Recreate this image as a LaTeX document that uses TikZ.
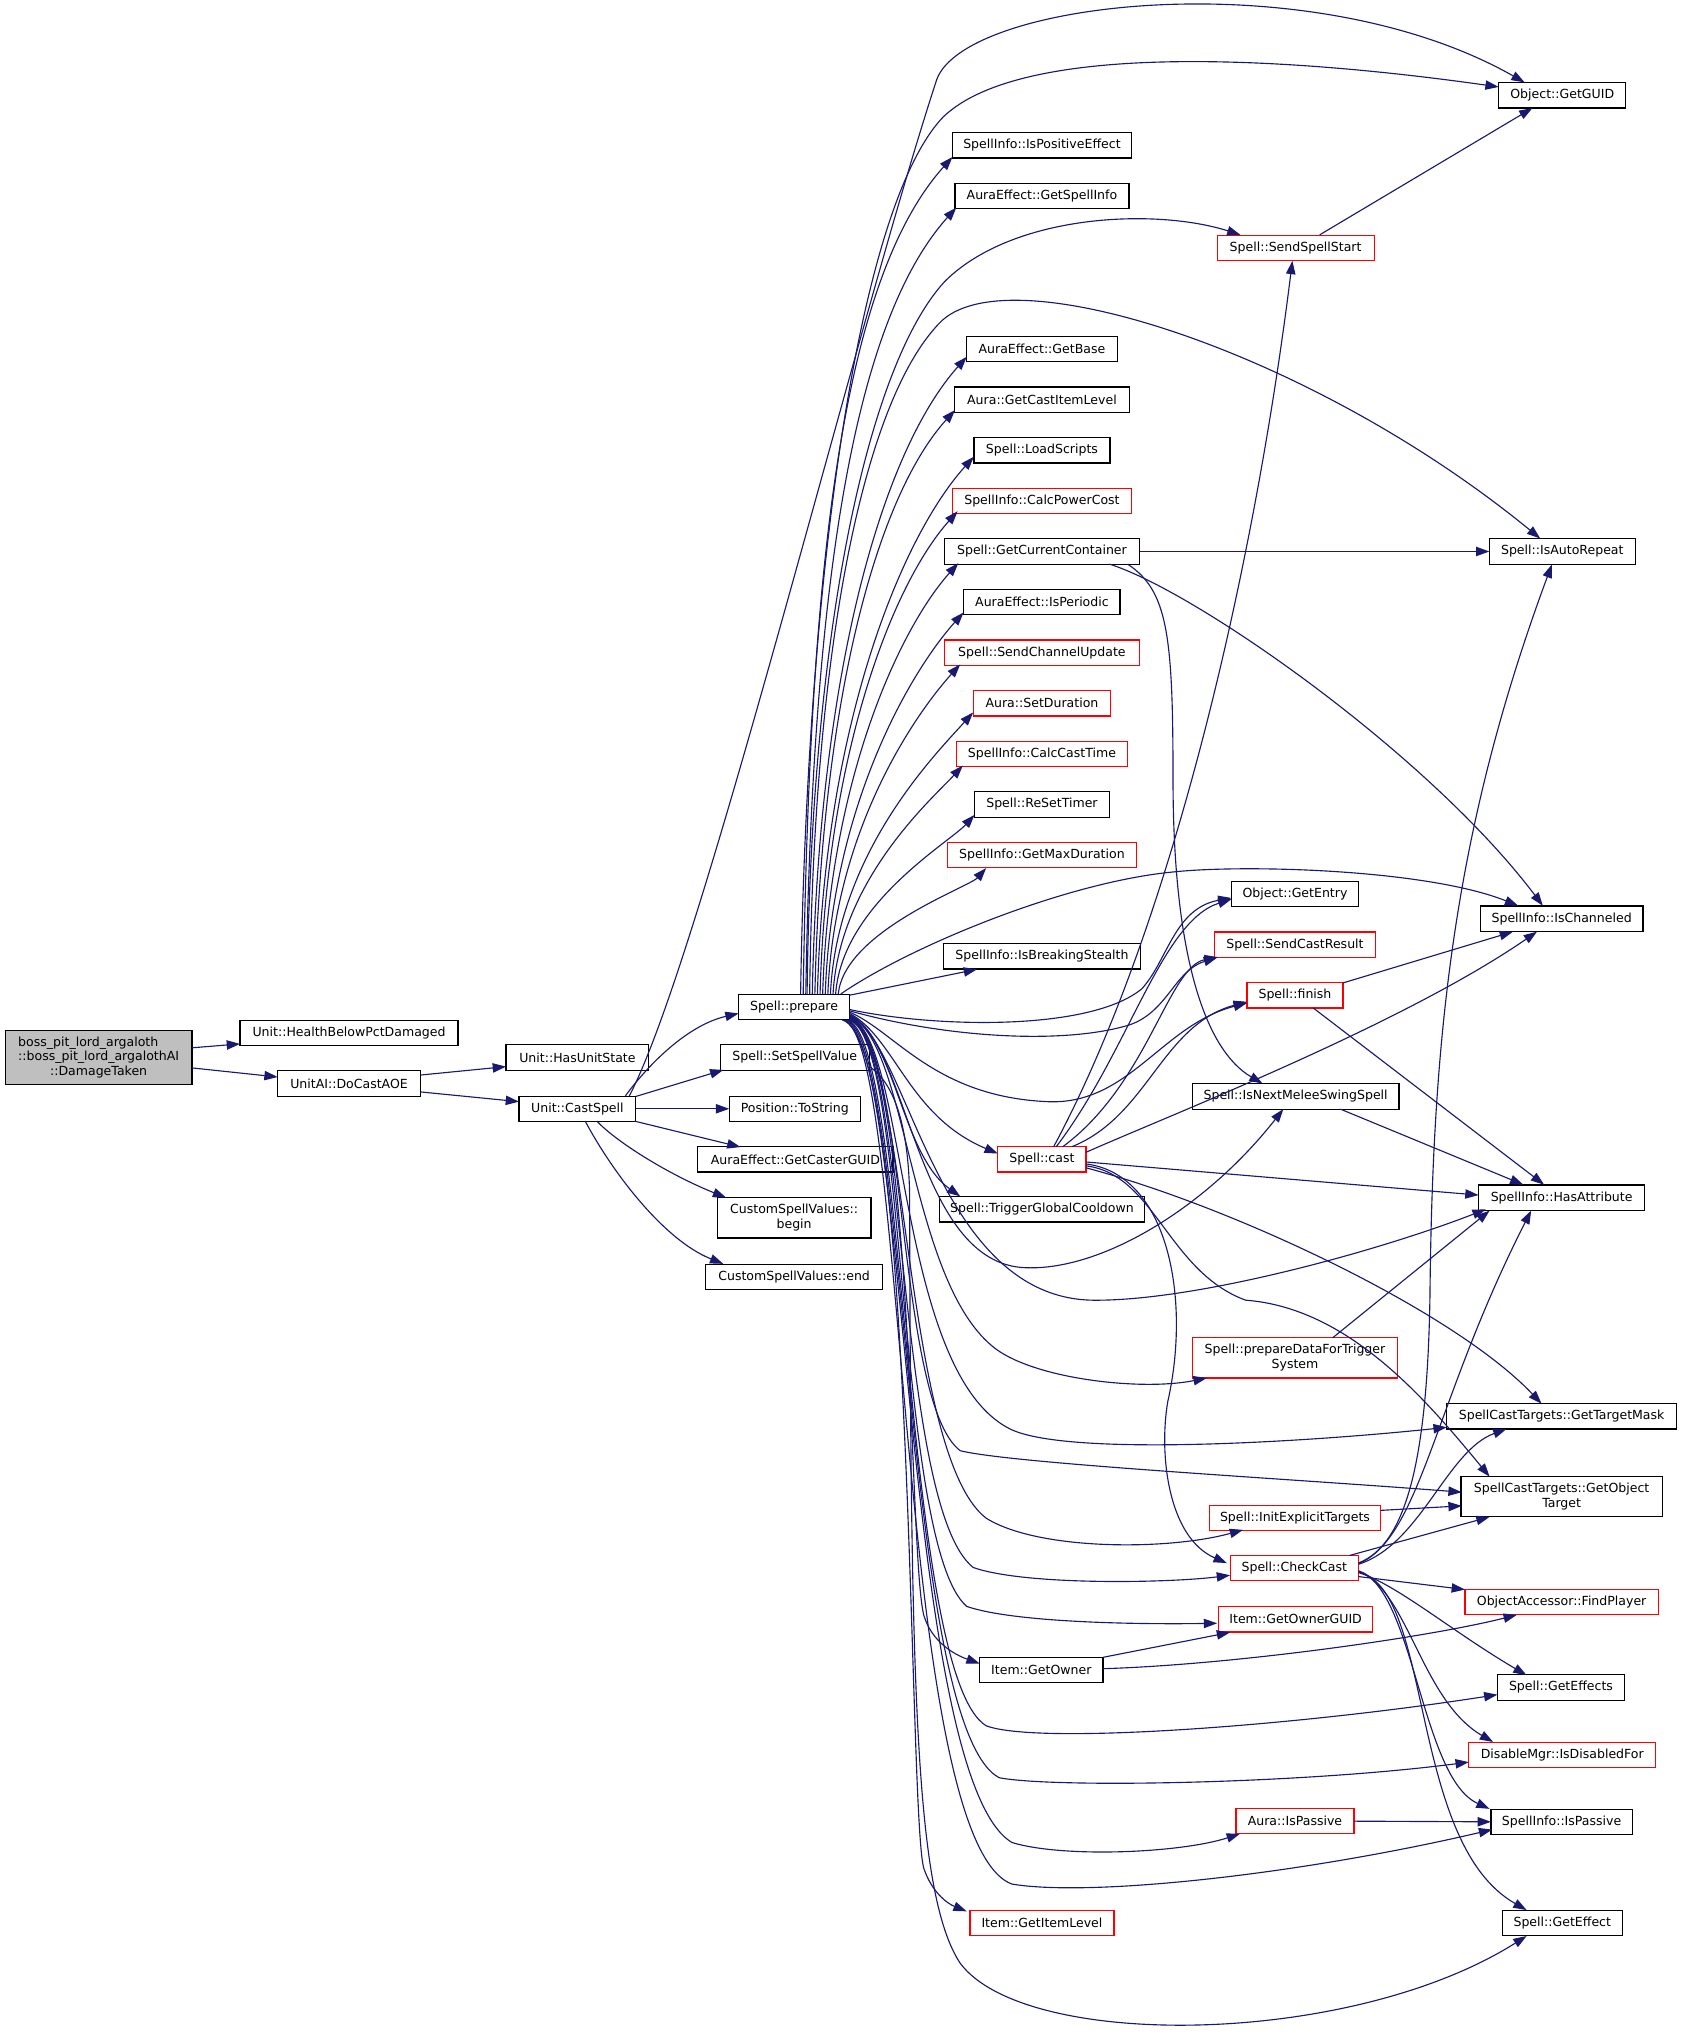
\documentclass[tikz,border=0pt]{standalone}
\usepackage{fontspec}
\setmainfont{DejaVu Sans}
\usetikzlibrary{arrows.meta}
\definecolor{eb}{HTML}{191970}
\definecolor{gfill}{HTML}{BFBFBF}
\def\ux{0.9732pt}
\begin{document}
\begin{tikzpicture}[x=0.9732pt,y=-0.9732pt,
  nb/.style={draw=black,line width=0.9pt,fill=white,inner sep=0pt,align=center,font=\fontsize{9.4}{11.2}\selectfont},
  rb/.style={nb,draw=red},
  sz/.style 2 args={minimum width=#1*\ux,minimum height=#2*\ux},
  e/.style={draw=eb,line width=0.85pt,-{Triangle[length=10pt,width=7pt]}}]
\useasboundingbox (0,0) rectangle (1297,1566);
% nodes
\node[nb,fill=gfill,sz={144}{42}] (boss) at (76,815) {\rlap{boss\_pit\_lord\_argaloth}\phantom{::boss\_pit\_lord\_argalothAI}\\::boss\_pit\_lord\_argalothAI\\::DamageTaken};
\node[nb,sz={168}{19.5}] (hbp) at (269,796) {Unit::HealthBelowPctDamaged};
\node[nb,sz={110}{19.5}] (dca) at (269,835) {UnitAI::DoCastAOE};
\node[nb,sz={110}{19.5}] (hus) at (445,815) {Unit::HasUnitState};
\node[nb,sz={90}{19.5}] (cs) at (445,854.5) {Unit::CastSpell};
\node[nb,sz={85.5}{19.5}] (prep) at (612,776) {Spell::prepare};
\node[nb,sz={115}{19.5}] (ssv) at (612.5,815) {Spell::SetSpellValue};
\node[nb,sz={101}{19.5}] (pts) at (612.5,854.5) {Position::ToString};
\node[nb,sz={150.5}{19.5}] (gcg) at (613,893.5) {AuraEffect::GetCasterGUID};
\node[nb,sz={118.5}{31}] (csb) at (612,938.5) {CustomSpellValues::\\begin};
\node[nb,sz={136.5}{19.5}] (cse) at (612,984) {CustomSpellValues::end};
\node[nb,sz={138}{19.5}] (ipe) at (803,112) {SpellInfo::IsPositiveEffect};
\node[nb,sz={134}{19.5}] (gsi) at (803,151) {AuraEffect::GetSpellInfo};
\node[rb,sz={121}{19.5}] (sss) at (998.5,191) {Spell::SendSpellStart};
\node[nb,sz={98}{19.5}] (guid) at (1204,73.5) {Object::GetGUID};
\node[nb,sz={116.6}{19.5}] (gb) at (803,269) {AuraEffect::GetBase};
\node[nb,sz={135.4}{19.5}] (gcil) at (803,308) {Aura::GetCastItemLevel};
\node[nb,sz={104.8}{19.5}] (ls) at (803,347) {Spell::LoadScripts};
\node[rb,sz={137.6}{19.5}] (cpc) at (803,386) {SpellInfo::CalcPowerCost};
\node[nb,sz={150.4}{19.5}] (gcc) at (803,425) {Spell::GetCurrentContainer};
\node[nb,sz={112.4}{19.5}] (iar) at (1204,425) {Spell::IsAutoRepeat};
\node[nb,sz={120.4}{19.5}] (iper) at (803,464) {AuraEffect::IsPeriodic};
\node[rb,sz={150}{19.5}] (scu) at (803,503) {Spell::SendChannelUpdate};
\node[rb,sz={106}{19.5}] (sd) at (803,542) {Aura::SetDuration};
\node[rb,sz={131.5}{19.5}] (cct) at (803,581) {SpellInfo::CalcCastTime};
\node[nb,sz={104}{19.5}] (rst) at (803,620) {Spell::ReSetTimer};
\node[rb,sz={145.5}{19.5}] (gmd) at (803,659) {SpellInfo::GetMaxDuration};
\node[nb,sz={151.6}{19.5}] (ibs) at (803,737) {SpellInfo::IsBreakingStealth};
\node[nb,sz={98}{19.5}] (ge) at (998,689) {Object::GetEntry};
\node[rb,sz={124}{19.5}] (scr) at (998,728) {Spell::SendCastResult};
\node[rb,sz={74}{19.5}] (fin) at (998,767) {Spell::finish};
\node[nb,sz={125.4}{19.5}] (ich) at (1203.5,708) {SpellInfo::IsChanneled};
\node[nb,sz={159.4}{19.5}] (nms) at (998.5,845) {Spell::IsNextMeleeSwingSpell};
\node[rb,sz={68}{19.5}] (cast) at (803,893.5) {Spell::cast};
\node[nb,sz={157.6}{19.5}] (tgc) at (803,932) {Spell::TriggerGlobalCooldown};
\node[nb,sz={128}{19.5}] (ha) at (1203.5,923) {SpellInfo::HasAttribute};
\node[rb,sz={158}{31}] (pdt) at (998,1046.5) {Spell::prepareDataForTrigger\\System};
\node[nb,sz={177}{19.5}] (gtm) at (1203.5,1091.5) {SpellCastTargets::GetTargetMask};
\node[nb,sz={155}{31}] (got) at (1203.5,1153.5) {SpellCastTargets::GetObject\\Target};
\node[rb,sz={132}{19.5}] (iet) at (998,1170) {Spell::InitExplicitTargets};
\node[rb,sz={99}{19.5}] (cc) at (997.5,1208.5) {Spell::CheckCast};
\node[rb,sz={149}{19.5}] (fp) at (1203.5,1234.5) {ObjectAccessor::FindPlayer};
\node[rb,sz={119}{19.5}] (gog) at (998.5,1248) {Item::GetOwnerGUID};
\node[nb,sz={95}{19.5}] (go) at (802.5,1287) {Item::GetOwner};
\node[nb,sz={98}{19.5}] (ges) at (1203,1300.5) {Spell::GetEffects};
\node[rb,sz={144}{19.5}] (idf) at (1204,1352.5) {DisableMgr::IsDisabledFor};
\node[rb,sz={91}{19.5}] (aip) at (998,1403.5) {Aura::IsPassive};
\node[nb,sz={109}{19.5}] (sip) at (1203.5,1404) {SpellInfo::IsPassive};
\node[rb,sz={111}{19.5}] (gil) at (803,1482) {Item::GetItemLevel};
\node[nb,sz={92.5}{19.5}] (gef) at (1204,1482) {Spell::GetEffect};
% edges: left part
\draw[e] ([shift={(72,-7.5)}]boss.center) -- ([shift={(-84,8.5)}]hbp.center);
\draw[e] ([shift={(72,8)}]boss.center) -- ([shift={(-55,-5)}]dca.center);
\draw[e] ([shift={(55,-6.5)}]dca.center) -- ([shift={(-55,7)}]hus.center);
\draw[e] ([shift={(55,6.5)}]dca.center) -- ([shift={(-45,-5.5)}]cs.center);
\draw[e] ([shift={(37,-10)}]cs.center) .. controls (500,820) and (530,790) .. ([shift={(-42.75,5)}]prep.center);
\draw[e] ([shift={(45,-9.5)}]cs.center) -- ([shift={(-55,9.5)}]ssv.center);
\draw[e] ([shift={(45,0)}]cs.center) -- ([shift={(-50.5,0)}]pts.center);
\draw[e] ([shift={(44,9.5)}]cs.center) -- ([shift={(-42.3,-9.5)}]gcg.center);
\draw[e] ([shift={(15,9.5)}]cs.center) .. controls (475,880) and (515,905) .. ([shift={(-52.4,-15.5)}]csb.center);
\draw[e] ([shift={(6,9.5)}]cs.center) .. controls (470,900) and (510,955) .. ([shift={(-54.6,-10)}]cse.center);
\draw[e] ([shift={(40,-10)}]cs.center) .. controls (540,740) and (660,250) .. (722,61) .. controls (745,0) and (1010,-30) .. ([shift={(-29,-10)}]guid.center);
% prepare upward fan
\draw[e] ([shift={(5,-10)}]prep.center) .. controls (622,450) and (660,160) .. (727,90) .. controls (790,30) and (1000,45) .. ([shift={(-49,-6.5)}]guid.center);
\draw[e] ([shift={(7,-10)}]prep.center) .. controls (624,443) and (647,218) .. ([shift={(-69,9)}]ipe.center);
\draw[e] ([shift={(9,-10)}]prep.center) .. controls (626,463) and (655,251) .. ([shift={(-66,9)}]gsi.center);
\draw[e] ([shift={(10,-10)}]prep.center) .. controls (625,480) and (670,280) .. (728,217) .. controls (780,165) and (890,160) .. ([shift={(-42.5,-10)}]sss.center);
\draw[e] ([shift={(12,-10)}]prep.center) .. controls (627,500) and (665,310) .. (724,249) .. controls (775,195) and (1010,270) .. ([shift={(-17,-10)}]iar.center);
\draw[e] ([shift={(14,-10)}]prep.center) .. controls (631,520) and (679,349) .. ([shift={(-58,6)}]gb.center);
\draw[e] ([shift={(16,-10)}]prep.center) .. controls (633,541) and (675,383.5) .. ([shift={(-67,8)}]gcil.center);
\draw[e] ([shift={(18,-10)}]prep.center) .. controls (635,559) and (694.6,414) .. ([shift={(-52.5,5)}]ls.center);
\draw[e] ([shift={(20,-10)}]prep.center) .. controls (637,580) and (688,450) .. ([shift={(-65,8)}]cpc.center);
\draw[e] ([shift={(22,-10)}]prep.center) .. controls (639,600) and (693.7,484) .. ([shift={(-64.5,9)}]gcc.center);
\draw[e] ([shift={(24,-10)}]prep.center) .. controls (641,619) and (703,516) .. ([shift={(-60.4,8)}]iper.center);
\draw[e] ([shift={(26,-10)}]prep.center) .. controls (643,639) and (705.7,550) .. ([shift={(-63,9)}]scu.center);
\draw[e] ([shift={(28,-10)}]prep.center) .. controls (645,657.5) and (720.7,581.5) .. ([shift={(-53,7)}]sd.center);
\draw[e] ([shift={(30,-10)}]prep.center) .. controls (647,678) and (718,616) .. ([shift={(-61,9)}]cct.center);
\draw[e] ([shift={(32,-10)}]prep.center) .. controls (649,697) and (732,649) .. ([shift={(-52,8)}]rst.center);
\draw[e] ([shift={(34,-10)}]prep.center) .. controls (651,717.5) and (747,683.5) .. ([shift={(-43,10)}]gmd.center);
\draw[e] ([shift={(42.5,-9)}]prep.center) -- ([shift={(-50,10)}]ibs.center);
\draw[e] ([shift={(36,-10)}]prep.center) .. controls (700,730) and (820,680) .. (904,672) .. controls (960,666) and (1100,670) .. ([shift={(-33.5,-10)}]ich.center);
% prepare right bundle
\draw[e] ([shift={(42.75,2)}]prep.center) .. controls (720,792) and (840,795) .. (880,762) .. controls (900,740) and (905,700) .. ([shift={(-49,3)}]ge.center);
\draw[e] ([shift={(42.75,3)}]prep.center) .. controls (730,800) and (820,805) .. (870,790) .. controls (900,780) and (905,748) .. ([shift={(-60,10)}]scr.center);
\draw[e] ([shift={(42.75,4)}]prep.center) .. controls (690,795) and (720,845) .. (807,849) .. controls (870,852) and (895,790) .. ([shift={(-37,6)}]fin.center);
\draw[e] ([shift={(42.75,5)}]prep.center) .. controls (690,800) and (700,860) .. ([shift={(-34,-4.5)}]cast.center);
\draw[e] ([shift={(42.75,6)}]prep.center) .. controls (690,800) and (695,890) .. ([shift={(-63,-10)}]tgc.center);
\draw[e] ([shift={(42.75,6.5)}]prep.center) .. controls (700,800) and (705,975) .. (791,977) .. controls (850,979) and (930,930) .. ([shift={(-9.5,9.75)}]nms.center);
\draw[e] ([shift={(42.75,7)}]prep.center) .. controls (700,800) and (720,1000) .. (842,1002) .. controls (920,1003) and (1060,965) .. ([shift={(-58.5,9)}]ha.center);
\draw[e] ([shift={(42.75,7.5)}]prep.center) .. controls (700,800) and (700,990) .. (768,1040) .. controls (800,1063) and (880,1072) .. ([shift={(-68,15.5)}]pdt.center);
\draw[e] ([shift={(42.75,8)}]prep.center) .. controls (700,800) and (690,1060) .. (780,1102) .. controls (825,1122) and (1000,1112) .. ([shift={(-88.5,8.5)}]gtm.center);
\draw[e] ([shift={(42.75,8.5)}]prep.center) .. controls (700,800) and (690,1080) .. (740,1118) .. controls (780,1128) and (1000,1140) .. ([shift={(-77,-3.5)}]got.center);
\draw[e] ([shift={(42.75,9)}]prep.center) .. controls (700,800) and (695,1120) .. (760,1170) .. controls (800,1195) and (900,1195) .. ([shift={(-40,9)}]iet.center);
\draw[e] ([shift={(42.75,9.5)}]prep.center) .. controls (700,800) and (690,1160) .. (750,1208) .. controls (790,1222) and (900,1220) .. ([shift={(-49.5,5.5)}]cc.center);
\draw[e] ([shift={(42.75,10)}]prep.center) .. controls (700,800) and (690,1190) .. (745,1238) .. controls (780,1250) and (870,1252) .. ([shift={(-60.5,3)}]gog.center);
\draw[e] ([shift={(42,10)}]prep.center) .. controls (705,800) and (700,1200) .. (712,1245) .. controls (718,1265) and (735,1275) .. ([shift={(-47.5,-5)}]go.center);
\draw[e] ([shift={(41,10)}]prep.center) .. controls (700,800) and (695,1290) .. (760,1330) .. controls (800,1345) and (1000,1330) .. ([shift={(-49,5.5)}]ges.center);
\draw[e] ([shift={(40,10)}]prep.center) .. controls (700,800) and (695,1330) .. (770,1370) .. controls (810,1378) and (1000,1375) .. ([shift={(-72,5.5)}]idf.center);
\draw[e] ([shift={(39,10)}]prep.center) .. controls (700,800) and (695,1370) .. (780,1420) .. controls (820,1432) and (910,1428) .. ([shift={(-42.4,9.75)}]aip.center);
\draw[e] ([shift={(38,10)}]prep.center) .. controls (700,800) and (690,1420) .. (780,1452) .. controls (840,1462) and (1000,1445) .. ([shift={(-53.5,6)}]sip.center);
\draw[e] ([shift={(37,10)}]prep.center) .. controls (705,800) and (700,1400) .. (712,1440) .. controls (718,1458) and (730,1467) .. ([shift={(-58,-9)}]gil.center);
\draw[e] ([shift={(57.5,7)}]ssv.center) .. controls (690,835) and (700,870) .. (701,920) .. controls (702,1300) and (705,1460) .. (740,1513) .. controls (790,1580) and (1040,1578) .. ([shift={(-27.5,10)}]gef.center);
% cast
\draw[e] ([shift={(9,-9.75)}]cast.center) .. controls (900,720) and (965,450) .. ([shift={(-2.5,10)}]sss.center);
\draw[e] ([shift={(11,-9.75)}]cast.center) .. controls (870,810) and (895,710) .. ([shift={(-49,4)}]ge.center);
\draw[e] ([shift={(16,-9.75)}]cast.center) .. controls (885,835) and (900,745) .. ([shift={(-59.4,9.6)}]scr.center);
\draw[e] ([shift={(23,-9.75)}]cast.center) .. controls (885,860) and (895,790) .. ([shift={(-37,5)}]fin.center);
\draw[e] ([shift={(34,-5.5)}]cast.center) .. controls (900,860) and (1080,790) .. ([shift={(-19,10)}]ich.center);
\draw[e] ([shift={(34,2)}]cast.center) -- ([shift={(-64,-2)}]ha.center);
\draw[e] ([shift={(34,6.5)}]cast.center) .. controls (950,930) and (1120,1010) .. ([shift={(-15.5,-9.75)}]gtm.center);
\draw[e] ([shift={(34,5)}]cast.center) .. controls (890,905) and (900,980) .. (960,1002) .. controls (1040,1008) and (1100,1080) .. ([shift={(-55.5,-15.5)}]got.center);
\draw[e] ([shift={(34,3.5)}]cast.center) .. controls (900,905) and (918,1000) .. (900,1080) .. controls (893,1120) and (900,1185) .. ([shift={(-52,-3.9)}]cc.center);
% others
\draw[e] ([shift={(18.5,-10)}]sss.center) -- ([shift={(-23,9.75)}]guid.center);
\draw[e] ([shift={(75.2,0)}]gcc.center) -- ([shift={(-56.2,0)}]iar.center);
\draw[e] ([shift={(52,9.75)}]gcc.center) .. controls (920,455) and (1100,580) .. ([shift={(-14.5,-10)}]ich.center);
\draw[e] ([shift={(66,9.75)}]gcc.center) .. controls (900,455) and (904,490) .. (904,600) .. controls (904,740) and (930,810) .. ([shift={(-25.5,-10)}]nms.center);
\draw[e] ([shift={(37,-9.5)}]fin.center) -- ([shift={(-37.5,10)}]ich.center);
\draw[e] ([shift={(14,9.75)}]fin.center) -- ([shift={(-13.5,-10)}]ha.center);
\draw[e] ([shift={(34.5,9.75)}]nms.center) -- ([shift={(-29.5,-10)}]ha.center);
\draw[e] ([shift={(29,-15.5)}]pdt.center) -- ([shift={(-55.5,10)}]ha.center);
\draw[e] ([shift={(66,-6)}]iet.center) -- ([shift={(-77,7)}]got.center);
\draw[e] ([shift={(49.5,-4)}]cc.center) .. controls (1085,1190) and (1100,1120) .. (1102,1000) .. controls (1104,800) and (1120,640) .. ([shift={(-8,10)}]iar.center);
\draw[e] ([shift={(49.5,-3.5)}]cc.center) .. controls (1095,1185) and (1105,1080) .. ([shift={(-23.5,10)}]ha.center);
\draw[e] ([shift={(49.5,-3)}]cc.center) .. controls (1095,1190) and (1115,1118) .. ([shift={(-42.5,9.75)}]gtm.center);
\draw[e] ([shift={(42.5,-9.75)}]cc.center) -- ([shift={(-55.5,15.5)}]got.center);
\draw[e] ([shift={(49.5,6.5)}]cc.center) -- ([shift={(-74.5,-9.5)}]fp.center);
\draw[e] ([shift={(49.5,3.5)}]cc.center) .. controls (1075,1220) and (1120,1258) .. ([shift={(-26.5,-9.5)}]ges.center);
\draw[e] ([shift={(49.5,2.5)}]cc.center) .. controls (1085,1225) and (1095,1310) .. ([shift={(-53.3,-10)}]idf.center);
\draw[e] ([shift={(49.5,2)}]cc.center) .. controls (1090,1225) and (1095,1370) .. ([shift={(-55.5,-10)}]sip.center);
\draw[e] ([shift={(49.5,3)}]cc.center) .. controls (1105,1225) and (1085,1420) .. ([shift={(-27.5,-10)}]gef.center);
\draw[e] ([shift={(47.5,-9.75)}]go.center) -- ([shift={(-50.5,10)}]gog.center);
\draw[e] ([shift={(47.5,-1)}]go.center) .. controls (950,1283) and (1100,1262) .. ([shift={(-34.5,10)}]fp.center);
\draw[e] ([shift={(45.5,0)}]aip.center) -- ([shift={(-54.5,0)}]sip.center);
\end{tikzpicture}
\end{document}
